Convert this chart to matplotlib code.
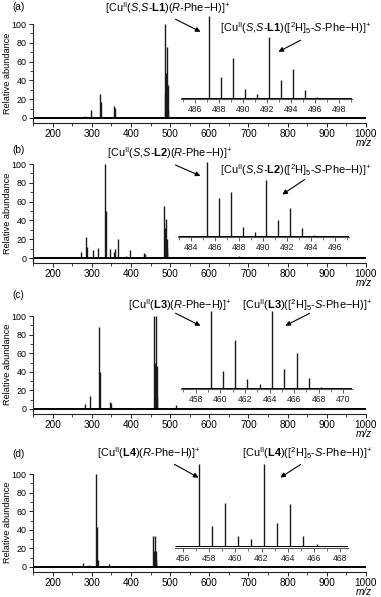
import matplotlib
matplotlib.use("Agg")
import matplotlib.pyplot as plt
from matplotlib.patches import FancyArrowPatch
from matplotlib.ticker import MultipleLocator

plt.rcParams['font.family'] = ['Liberation Sans', 'DejaVu Sans']
plt.rcParams['mathtext.fontset'] = 'custom'
plt.rcParams['mathtext.rm'] = 'Liberation Sans'
plt.rcParams['mathtext.it'] = 'Liberation Sans:italic'
plt.rcParams['mathtext.bf'] = 'Liberation Sans:bold'

# ---------------- data ----------------
panel_labels = ["(a)", "(b)", "(c)", "(d)"]

mz_a = [250, 270, 282, 297, 322, 324, 357, 359, 420,
        487.2, 488.2, 489.2, 490.2, 491.2, 492.2, 493.2, 494.2, 495.2]
int_a = [0.8, 1, 2.5, 8, 25, 17, 13, 11, 1,
         100, 25, 48, 11, 4, 75, 21, 35, 9]
inset_mz_a = [487.2, 488.2, 489.2, 490.2, 491.2, 492.2, 493.2, 494.2, 495.2, 496.2]
inset_int_a = [100, 25, 48, 11, 4, 74, 21, 35, 9, 1]

mz_b = [273, 285, 288, 303, 315, 334, 336, 346, 356, 360, 367, 387, 397, 433, 437,
        485.3, 486.3, 487.3, 488.3, 489.3, 490.3, 491.3, 492.3, 493.3, 677, 845]
int_b = [6, 22, 12, 8, 11, 100, 50, 10, 6, 10, 20, 2, 9, 5, 4,
         55, 28, 32, 7, 3, 41, 12, 20, 5, 2, 1]
inset_mz_b = [485.3, 486.3, 487.3, 488.3, 489.3, 490.3, 491.3, 492.3, 493.3, 494.3]
inset_int_b = [100, 51, 59, 12, 5, 75, 21, 37, 10, 1]

mz_c = [250, 282, 296, 319, 320, 346, 348, 380, 400, 425, 440,
        459.2, 460.2, 461.2, 462.2, 463.2, 464.2, 465.2, 466.2, 467.2, 516]
int_c = [1, 5, 13.5, 88, 40, 8, 6, 1, 1.5, 1.5, 1,
         100, 22, 49, 11, 5, 100, 24, 46, 13, 4]
inset_mz_c = [459.2, 460.2, 461.2, 462.2, 463.2, 464.2, 465.2, 466.2, 467.2, 468.2]
inset_int_c = [100, 22, 62, 11, 5, 100, 24, 45, 13, 1]

mz_d = [278, 294, 312, 313, 315, 344, 370, 378,
        457.2, 458.2, 459.2, 460.2, 461.2, 462.2, 463.2, 464.2, 465.2]
int_d = [4, 2, 100, 43, 8, 3, 1, 1,
         33, 8, 17, 4, 3, 33, 9, 17, 4]
inset_mz_d = [457.2, 458.2, 459.2, 460.2, 461.2, 462.2, 463.2, 464.2, 465.2, 466.2]
inset_int_d = [100, 24, 52, 12, 8, 100, 28, 51, 12, 2]

titles_left = [
    r"[Cu$^{\mathrm{II}}$($\mathit{S}$,$\mathit{S}$-$\mathbf{L1}$)($\mathit{R}$-Phe$-$H)]$^{+}$",
    r"[Cu$^{\mathrm{II}}$($\mathit{S}$,$\mathit{S}$-$\mathbf{L2}$)($\mathit{R}$-Phe$-$H)]$^{+}$",
    r"[Cu$^{\mathrm{II}}$($\mathbf{L3}$)($\mathit{R}$-Phe$-$H)]$^{+}$",
    r"[Cu$^{\mathrm{II}}$($\mathbf{L4}$)($\mathit{R}$-Phe$-$H)]$^{+}$",
]
titles_right = [
    r"[Cu$^{\mathrm{II}}$($\mathit{S}$,$\mathit{S}$-$\mathbf{L1}$)([$^{2}$H]$_{5}$-$\mathit{S}$-Phe$-$H)]$^{+}$",
    r"[Cu$^{\mathrm{II}}$($\mathit{S}$,$\mathit{S}$-$\mathbf{L2}$)([$^{2}$H]$_{5}$-$\mathit{S}$-Phe$-$H)]$^{+}$",
    r"[Cu$^{\mathrm{II}}$($\mathbf{L3}$)([$^{2}$H]$_{5}$-$\mathit{S}$-Phe$-$H)]$^{+}$",
    r"[Cu$^{\mathrm{II}}$($\mathbf{L4}$)([$^{2}$H]$_{5}$-$\mathit{S}$-Phe$-$H)]$^{+}$",
]

main_x_ticks = [200, 300, 400, 500, 600, 700, 800, 900, 1000]
y_ticks = [0, 20, 40, 60, 80, 100]

# ---------------- layout (pixels) ----------------
W, H = 381, 597
fig = plt.figure(figsize=(W / 100, H / 100), dpi=100)


def rect(left, right, top, bottom):
    return [left / W, 1 - bottom / H, (right - left) / W, (bottom - top) / H]


def fx(x):
    return x / W


def fy(y):
    return 1 - y / H


panels = [
    dict(mz=mz_a, it=int_a, imz=inset_mz_a, iit=inset_int_a,
         y100=24, y0=118, inset=(181, 352, 16, 97.6), ixlim=(484.85, 499.1),
         lab=(12, 7), t1=(168, 8), t2=(372, 28),
         a1=((173, 18), (203, 33)), a2=((303, 39), (276, 53))),
    dict(mz=mz_b, it=int_b, imz=inset_mz_b, iit=inset_int_b,
         y100=164, y0=258, inset=(178, 349, 162, 235.7), ixlim=(482.9, 497.2),
         lab=(12, 150), t1=(170, 153), t2=(372, 170),
         a1=((173, 164), (203, 177)), a2=((307, 178), (280, 196))),
    dict(mz=mz_c, it=int_c, imz=inset_mz_c, iit=inset_int_c,
         y100=316, y0=409, inset=(181, 352, 310.7, 387.7), ixlim=(456.8, 470.7),
         lab=(12, 295), t1=(180, 305), t2=(372, 305),
         a1=((173, 312), (203, 327)), a2=((312, 312), (283, 327))),
    dict(mz=mz_d, it=int_d, imz=inset_mz_d, iit=inset_int_d,
         y100=474, y0=567, inset=(175, 348, 464, 546), ixlim=(455.4, 468.6),
         lab=(12, 454), t1=(149, 453), t2=(372, 453),
         a1=((172, 463), (201, 479)), a2=((303, 463), (278, 479))),
]

LEFT, RIGHT = 33, 366
fs = 7.2
title_fs = 7.9
peak_color = '#1a1a1a'

for i, p in enumerate(panels):
    pxu = (p['y0'] - p['y100']) / 100.0
    ymin = -5.5
    bottom = p['y0'] - ymin * pxu
    ax = fig.add_axes(rect(LEFT, RIGHT, p['y100'], bottom))
    ax.set_xlim(150, 1000)
    ax.set_ylim(ymin, 100)
    ax.vlines(p['mz'], 0, p['it'], color=peak_color, lw=1.0, clip_on=False)
    ax.hlines(0, 150, 1000, color='black', lw=1.4)
    for s in ['top', 'right']:
        ax.spines[s].set_visible(False)
    for s in ['left', 'bottom']:
        ax.spines[s].set_linewidth(0.8)
        ax.spines[s].set_color('#222222')
    ax.set_xticks(main_x_ticks)
    ax.xaxis.set_minor_locator(MultipleLocator(50))
    ax.set_yticks(y_ticks)
    ax.yaxis.set_minor_locator(MultipleLocator(10))
    ax.tick_params(axis='both', which='major', length=3, width=0.7,
                   pad=1.5, colors='#222222', labelcolor='black')
    ax.tick_params(axis='x', which='major', labelsize=fs)
    ax.tick_params(axis='y', which='major', labelsize=6.4)
    ax.tick_params(axis='both', which='minor', length=2, width=0.6, colors='#222222')
    ax.set_ylim(ymin, 100)
    ax.spines['left'].set_bounds(ymin, 100)
    ax.patch.set_alpha(0)

    # inset
    il, ir, itop, ibase = p['inset']
    ipxu = (ibase - itop) / 100.0
    iymin = -2.0
    ibottom = ibase - iymin * ipxu
    ins = fig.add_axes(rect(il, ir, itop, ibottom))
    ins.set_xlim(*p['ixlim'])
    ins.set_ylim(iymin, 100)
    ins.vlines(p['imz'], 0, p['iit'], color=peak_color, lw=1.0, clip_on=False)
    ins.hlines(0, p['ixlim'][0], p['ixlim'][1], color='black', lw=0.7)
    for s in ['top', 'right', 'left']:
        ins.spines[s].set_visible(False)
    ins.spines['bottom'].set_color('#555555')
    ins.spines['bottom'].set_linewidth(0.8)
    ins.set_yticks([])
    ins.xaxis.set_major_locator(MultipleLocator(2))
    ins.xaxis.set_minor_locator(MultipleLocator(1))
    ins.tick_params(axis='x', which='major', labelsize=6.2, length=3, width=0.6,
                    pad=1.5, colors='#444444', labelcolor='#222222')
    ins.tick_params(axis='x', which='minor', length=2, width=0.5, colors='#444444')
    ins.patch.set_alpha(0)

    # texts
    fig.text(fx(p['lab'][0]), fy(p['lab'][1]), panel_labels[i], fontsize=fs,
             ha='left', va='center')
    fig.text(fx(p['t1'][0]), fy(p['t1'][1]), titles_left[i], fontsize=title_fs,
             ha='center', va='center')
    fig.text(fx(p['t2'][0]), fy(p['t2'][1]), titles_right[i], fontsize=title_fs,
             ha='right', va='center')
    for (a, b) in (p['a1'], p['a2']):
        arr = FancyArrowPatch((fx(a[0]), fy(a[1])), (fx(b[0]), fy(b[1])),
                              transform=fig.transFigure, arrowstyle='-|>',
                              mutation_scale=7, lw=0.8, color='black')
        fig.add_artist(arr)
    # y label
    fig.text(fx(8), fy((p['y100'] + p['y0']) / 2 + 2), "Relative abundance",
             fontsize=6.6, rotation=90, ha='center', va='center')
    # m/z label
    fig.text(fx(372), fy(bottom + 20), "m/z", fontsize=fs, style='italic',
             ha='right', va='center')

fig.savefig("out.png", dpi=100)
